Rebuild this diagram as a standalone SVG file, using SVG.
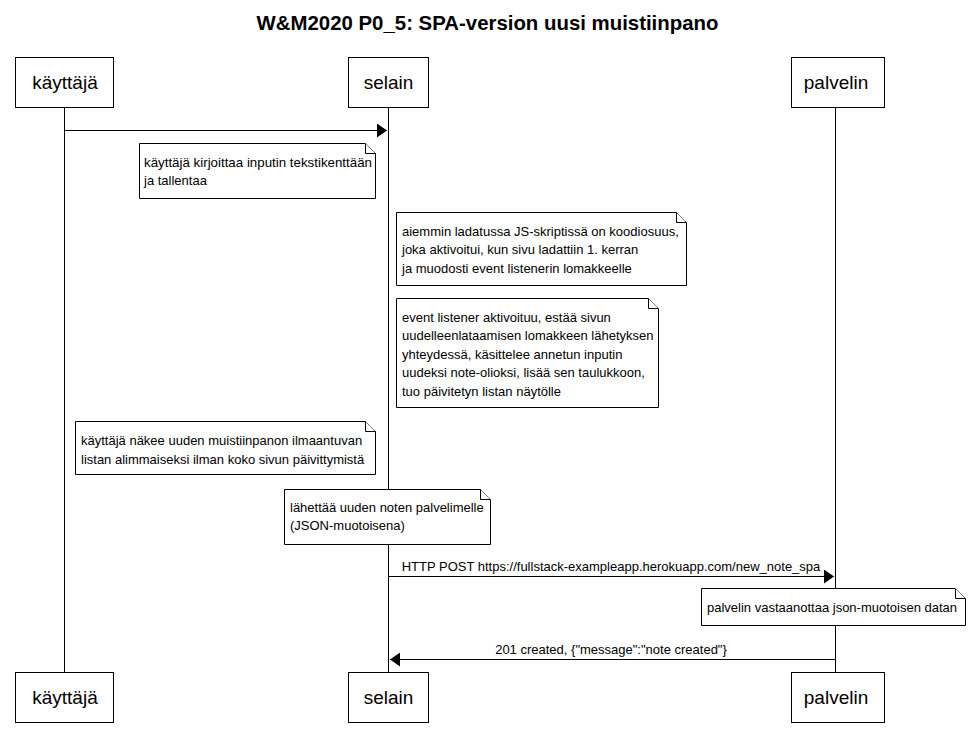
<svg xmlns="http://www.w3.org/2000/svg" width="975" height="749" viewBox="0 0 975 749">
<style>
.box{fill:#fff;stroke:#000;stroke-width:1}
.life{stroke:#000;stroke-width:1}
.pt{font-family:"Liberation Sans",Arial,sans-serif;font-size:19px;text-anchor:middle}
.nt{font-family:"Liberation Sans",Arial,sans-serif;font-size:13px}
.ml{font-family:"Liberation Sans",Arial,sans-serif;font-size:13px;text-anchor:middle}
.note{fill:#fff;stroke:#000;stroke-width:1}
.msg{stroke:#000;stroke-width:1;fill:none}
</style>
<defs>
<marker id="ah" markerWidth="10" markerHeight="14" refX="10" refY="7" orient="auto" markerUnits="userSpaceOnUse">
<path d="M0,0 L10,7 L0,14 Z" fill="#000"/>
</marker>
</defs>
<rect width="975" height="749" fill="#fff"/>
<text x="487.5" y="30" font-family="Liberation Sans,Arial,sans-serif" font-size="20.4" font-weight="bold" text-anchor="middle">W&amp;M2020 P0_5: SPA-version uusi muistiinpano</text>
<g id="lifelines">
<line class="life" x1="64.5" y1="107" x2="64.5" y2="672"/>
<line class="life" x1="388.5" y1="107" x2="388.5" y2="672"/>
<line class="life" x1="835.5" y1="107" x2="835.5" y2="672"/>
</g>
<g id="kayttaja">
<rect class="box" x="15.5" y="57.5" width="98" height="50"/>
<text class="pt" x="65" y="89">käyttäjä</text>
<rect class="box" x="15.5" y="672.5" width="98" height="50"/>
<text class="pt" x="65" y="704">käyttäjä</text>
</g>
<g id="selain">
<rect class="box" x="348.5" y="57.5" width="80" height="50"/>
<text class="pt" x="388.5" y="89">selain</text>
<rect class="box" x="348.5" y="672.5" width="80" height="50"/>
<text class="pt" x="388.5" y="704">selain</text>
</g>
<g id="palvelin">
<rect class="box" x="791.5" y="57.5" width="93" height="50"/>
<text class="pt" x="836" y="89">palvelin</text>
<rect class="box" x="791.5" y="672.5" width="93" height="50"/>
<text class="pt" x="836" y="704">palvelin</text>
</g>
<g id="connectors">
<line class="msg" x1="64.5" y1="130.5" x2="387" y2="130.5" marker-end="url(#ah)"/>
<line class="msg" x1="388.5" y1="576.5" x2="834" y2="576.5" marker-end="url(#ah)"/>
<text class="ml" x="611" y="571">HTTP POST https://fullstack-exampleapp.herokuapp.com/new_note_spa</text>
<line class="msg" x1="835.5" y1="659.5" x2="390" y2="659.5" marker-end="url(#ah)"/>
<text class="ml" x="611" y="654">201 created, {"message":"note created"}</text>
</g>
<g id="note1">
<path class="note" d="M139.5,143.5 H365.5 L375.5,153.5 V198.5 H139.5 Z"/>
<path class="note" d="M365.5,143.5 V153.5 H375.5"/>
<text class="nt" x="144" y="167" textLength="228" lengthAdjust="spacingAndGlyphs">käyttäjä kirjoittaa inputin tekstikenttään</text>
<text class="nt" x="144" y="185">ja tallentaa</text>
</g>
<g id="note2">
<path class="note" d="M396.5,212.5 H676.5 L686.5,222.5 V285.5 H396.5 Z"/>
<path class="note" d="M676.5,212.5 V222.5 H686.5"/>
<text class="nt" x="402" y="236">aiemmin ladatussa JS-skriptissä on koodiosuus,</text>
<text class="nt" x="402" y="254">joka aktivoitui, kun sivu ladattiin 1. kerran</text>
<text class="nt" x="402" y="273">ja muodosti event listenerin lomakkeelle</text>
</g>
<g id="note3">
<path class="note" d="M396.5,298.5 H648.5 L658.5,308.5 V407.5 H396.5 Z"/>
<path class="note" d="M648.5,298.5 V308.5 H658.5"/>
<text class="nt" x="402" y="322">event listener aktivoituu, estää sivun</text>
<text class="nt" x="402" y="340">uudelleenlataamisen lomakkeen lähetyksen</text>
<text class="nt" x="402" y="359">yhteydessä, käsittelee annetun inputin</text>
<text class="nt" x="402" y="377">uudeksi note-olioksi, lisää sen taulukkoon,</text>
<text class="nt" x="402" y="396">tuo päivitetyn listan näytölle</text>
</g>
<g id="note4">
<path class="note" d="M75.5,421.5 H365.5 L375.5,431.5 V474.5 H75.5 Z"/>
<path class="note" d="M365.5,421.5 V431.5 H375.5"/>
<text class="nt" x="81" y="445">käyttäjä näkee uuden muistiinpanon ilmaantuvan</text>
<text class="nt" x="81" y="464">listan alimmaiseksi ilman koko sivun päivittymistä</text>
</g>
<g id="note5">
<path class="note" d="M284.5,489.5 H480.5 L490.5,499.5 V544.5 H284.5 Z"/>
<path class="note" d="M480.5,489.5 V499.5 H490.5"/>
<text class="nt" x="290" y="512">lähettää uuden noten palvelimelle</text>
<text class="nt" x="290" y="530">(JSON-muotoisena)</text>
</g>
<g id="note6">
<path class="note" d="M701.5,588.5 H955.5 L965.5,598.5 V625.5 H701.5 Z"/>
<path class="note" d="M955.5,588.5 V598.5 H965.5"/>
<text class="nt" x="707" y="612">palvelin vastaanottaa json-muotoisen datan</text>
</g>
</svg>
